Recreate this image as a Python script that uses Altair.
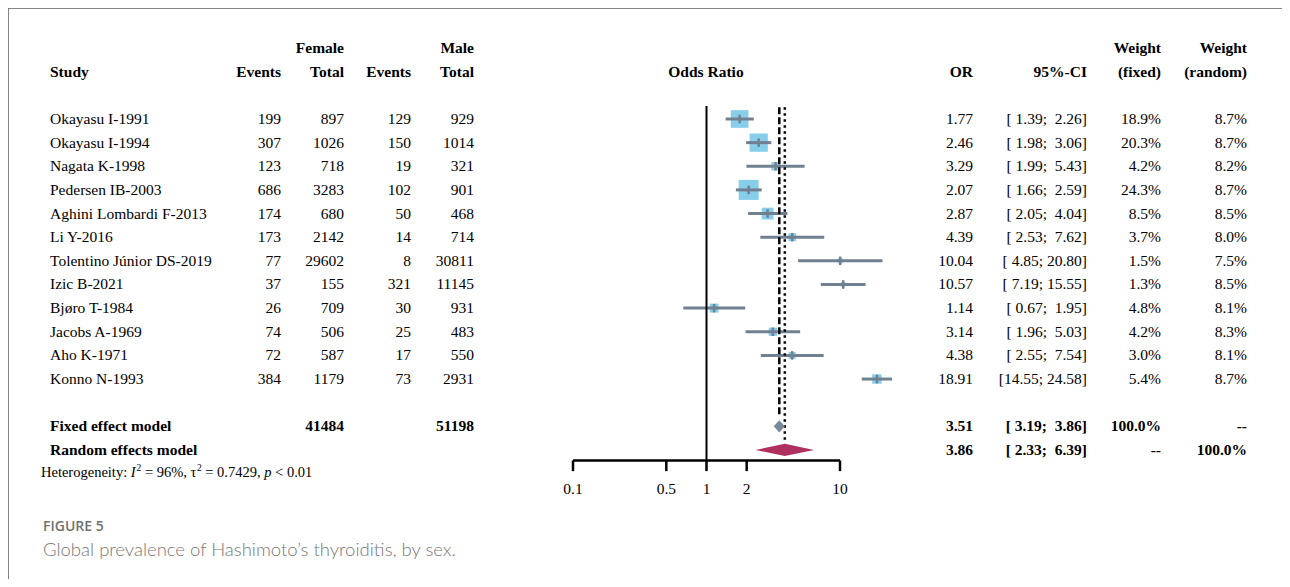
import altair as alt
import pandas as pd

# ---------------- data ----------------
studies = ["Okayasu I-1991", "Okayasu I-1994", "Nagata K-1998", "Pedersen IB-2003",
           "Aghini Lombardi F-2013", "Li Y-2016", "Tolentino Júnior DS-2019", "Izic B-2021",
           "Bjøro T-1984", "Jacobs A-1969", "Aho K-1971", "Konno N-1993"]
f_events = [199, 307, 123, 686, 174, 173, 77, 37, 26, 74, 72, 384]
f_total = [897, 1026, 718, 3283, 680, 2142, 29602, 155, 709, 506, 587, 1179]
m_events = [129, 150, 19, 102, 50, 14, 8, 321, 30, 25, 17, 73]
m_total = [929, 1014, 321, 901, 468, 714, 30811, 11145, 931, 483, 550, 2931]
odds = [1.77, 2.46, 3.29, 2.07, 2.87, 4.39, 10.04, 10.57, 1.14, 3.14, 4.38, 18.91]
ci_lo = [1.39, 1.98, 1.99, 1.66, 2.05, 2.53, 4.85, 7.19, 0.67, 1.96, 2.55, 14.55]
ci_hi = [2.26, 3.06, 5.43, 2.59, 4.04, 7.62, 20.80, 15.55, 1.95, 5.03, 7.54, 24.58]
w_fixed = [18.9, 20.3, 4.2, 24.3, 8.5, 3.7, 1.5, 1.3, 4.8, 4.2, 3.0, 5.4]
w_random = [8.7, 8.7, 8.2, 8.7, 8.5, 8.0, 7.5, 8.5, 8.1, 8.3, 8.1, 8.7]

model_names = ["Fixed effect model", "Random effects model"]
model_keys = ["fixed", "random"]
model_or = [3.51, 3.86]
model_lo = [3.19, 2.33]
model_hi = [3.86, 6.39]
model_wf = ["100.0%", "--"]
model_wr = ["--", "100.0%"]
total_female = 41484
total_male = 51198

tick_values = [0.1, 0.5, 1, 2, 10]
tick_labels = ["0.1", "0.5", "1", "2", "10"]

# ---------------- layout ----------------
W, H = 1274, 571
SERIF = "Liberation Serif"
FS = 15.5
ROW_MODEL = [13, 14]
ROW_AXIS = 14.445
NBSP = "\u00a0"

xs = alt.Scale(type="log", domain=[0.1, 10], range=[565, 832], nice=False)
ys = alt.Scale(domain=[0, 11], range=[111, 371.04], nice=False, zero=False)


def X(f):
    return alt.X(f, type="quantitative", scale=xs, axis=None)


def Y(f):
    return alt.Y(f, type="quantitative", scale=ys, axis=None)


def ci_text(lo, hi):
    return f"[{lo:5.2f}; {hi:5.2f}]".replace(" ", NBSP)


rows = list(range(len(studies)))
study_df = pd.DataFrame({
    "row": rows, "name": studies,
    "fe": [str(v) for v in f_events], "ft": [str(v) for v in f_total],
    "me": [str(v) for v in m_events], "mt": [str(v) for v in m_total],
    "or": odds, "lo": ci_lo, "hi": ci_hi, "wf": w_fixed, "wr": w_random,
    "ors": [f"{v:.2f}" for v in odds],
    "cis": [ci_text(a, b) for a, b in zip(ci_lo, ci_hi)],
    "wfs": [f"{v:.1f}%" for v in w_fixed],
    "wrs": [f"{v:.1f}%" for v in w_random],
})
model_df = pd.DataFrame({
    "row": ROW_MODEL, "name": model_names,
    "fe": ["", ""], "ft": [str(total_female), ""],
    "me": ["", ""], "mt": [str(total_male), ""],
    "ors": [f"{v:.2f}" for v in model_or],
    "cis": [ci_text(a, b) for a, b in zip(model_lo, model_hi)],
    "wfs": model_wf, "wrs": model_wr,
})

layers = []

# frame
frame = pd.DataFrame({"k": [0]})
layers.append(alt.Chart(frame).mark_rule(color="#666666", strokeWidth=1.5).encode(
    x=alt.value(0), x2=alt.value(W), y=alt.value(0.0)))
layers.append(alt.Chart(frame).mark_rule(color="#666666", strokeWidth=1.5).encode(
    x=alt.value(0.0), y=alt.value(0), y2=alt.value(H)))

# squares (area proportional to fixed weight)
layers.append(alt.Chart(study_df).mark_square(color="#87CEEB", opacity=1).encode(
    x=X("or"), y=Y("row"),
    size=alt.Size("wf:Q", scale=alt.Scale(domain=[0, 100], range=[0, 1650]), legend=None)))

# CI lines
layers.append(alt.Chart(study_df).mark_rule(color="#708090", strokeWidth=3).encode(
    x=X("lo"), x2=alt.X2("hi"), y=Y("row")))

# point estimate ticks
layers.append(alt.Chart(study_df).transform_calculate(
    y1="datum.row - 0.18", y2="datum.row + 0.18").mark_rule(color="#708090", strokeWidth=2.5).encode(
    x=X("or"), y=Y("y1"), y2=alt.Y2("y2")))

# reference lines
ref_df = pd.DataFrame({"v": [1.0], "top": [-0.55], "bot": [ROW_AXIS]})
layers.append(alt.Chart(ref_df).mark_rule(color="black", strokeWidth=2).encode(
    x=X("v"), y=Y("top"), y2=alt.Y2("bot")))
fixed_line = pd.DataFrame({"v": [model_or[0]], "top": [-0.5], "bot": [12.6]})
layers.append(alt.Chart(fixed_line).mark_rule(color="black", strokeWidth=2.5, strokeDash=[7, 3]).encode(
    x=X("v"), y=Y("top"), y2=alt.Y2("bot")))
rand_line = pd.DataFrame({"v": [model_or[1]], "top": [-0.5], "bot": [13.6]})
layers.append(alt.Chart(rand_line).mark_rule(color="black", strokeWidth=2.5, strokeDash=[2.5, 3.5]).encode(
    x=X("v"), y=Y("top"), y2=alt.Y2("bot")))

# diamonds
dia_rows = []
for key, r, est, lo, hi in zip(model_keys, ROW_MODEL, model_or, model_lo, model_hi):
    dia_rows.append({"model": key, "x": lo, "t": r, "b": r})
    dia_rows.append({"model": key, "x": est, "t": r - 0.26, "b": r + 0.26})
    dia_rows.append({"model": key, "x": hi, "t": r, "b": r})
dia_df = pd.DataFrame(dia_rows)
for key, col in zip(model_keys, ["#778899", "#B03060"]):
    layers.append(alt.Chart(dia_df[dia_df.model == key]).mark_area(
        orient="vertical", color=col, opacity=1).encode(
        x=X("x"), y=Y("t"), y2=alt.Y2("b")))

# x axis (drawn from 0.1 to 10)
axis_df = pd.DataFrame({"a": [tick_values[0]], "b": [tick_values[-1]], "r": [ROW_AXIS]})
layers.append(alt.Chart(axis_df).mark_rule(color="black", strokeWidth=2.5).encode(
    x=X("a"), x2=alt.X2("b"), y=Y("r")))
ticks_df = pd.DataFrame({"v": tick_values, "lab": tick_labels,
                         "t": [ROW_AXIS] * len(tick_values),
                         "b": [ROW_AXIS + 0.45] * len(tick_values),
                         "l": [15.65] * len(tick_values)})
layers.append(alt.Chart(ticks_df).mark_rule(color="black", strokeWidth=2.5).encode(
    x=X("v"), y=Y("t"), y2=alt.Y2("b")))
layers.append(alt.Chart(ticks_df).mark_text(font=SERIF, fontSize=FS, color="black",
                                            align="center", baseline="middle").encode(
    x=X("v"), y=Y("l"), text="lab:N"))

# table text
columns = [("name", 42, "left"), ("fe", 273, "right"), ("ft", 336, "right"),
           ("me", 403, "right"), ("mt", 466, "right"), ("ors", 965, "right"),
           ("cis", 1079, "right"), ("wfs", 1153, "right"), ("wrs", 1239, "right")]
for col, px, al in columns:
    layers.append(alt.Chart(study_df).mark_text(font=SERIF, fontSize=FS, color="black",
                                                align=al, baseline="middle").encode(
        x=alt.value(px), y=Y("row"), text=f"{col}:N"))
    sub = model_df[model_df[col] != ""]
    layers.append(alt.Chart(sub).mark_text(font=SERIF, fontSize=FS, color="black", fontWeight="bold",
                                           align=al, baseline="middle").encode(
        x=alt.value(px), y=Y("row"), text=f"{col}:N"))

# headers
headers = [("Female", -3, 336, "right"), ("Male", -3, 466, "right"),
           ("Weight", -3, 1153, "right"), ("Weight", -3, 1239, "right"),
           ("Study", -2, 42, "left"), ("Events", -2, 273, "right"), ("Total", -2, 336, "right"),
           ("Events", -2, 403, "right"), ("Total", -2, 466, "right"),
           ("Odds Ratio", -2, 698, "center"), ("OR", -2, 965, "right"),
           ("95%-CI", -2, 1079, "right"), ("(fixed)", -2, 1153, "right"),
           ("(random)", -2, 1239, "right")]
for txt, r, px, al in headers:
    hdf = pd.DataFrame({"row": [r], "t": [txt]})
    layers.append(alt.Chart(hdf).mark_text(font=SERIF, fontSize=FS, color="black", fontWeight="bold",
                                           align=al, baseline="middle").encode(
        x=alt.value(px), y=Y("row"), text="t:N"))

# heterogeneity line
HF = 14.5
SF = 9.5
het = [("Heterogeneity:", 33, "normal", HF, 0), ("I", 122.8, "italic", HF, 0),
       ("2", 128.5, "normal", SF, -5), ("= 96%,", 136.9, "normal", HF, 0),
       ("τ", 182.5, "normal", HF, 0), ("2", 188.9, "normal", SF, -5),
       ("= 0.7429,", 197.3, "normal", HF, 0), ("p", 256.2, "italic", HF, 0),
       ("< 0.01", 267.1, "normal", HF, 0)]
for txt, px, style, fs, dy in het:
    hdf = pd.DataFrame({"t": [txt]})
    layers.append(alt.Chart(hdf).mark_text(font=SERIF, fontSize=fs, fontStyle=style, color="black",
                                           align="left", baseline="middle", dy=dy).encode(
        x=alt.value(px), y=alt.value(465), text="t:N"))

# caption
cap1 = pd.DataFrame({"t": ["FIGURE 5"]})
layers.append(alt.Chart(cap1).mark_text(font="Open Sans", fontSize=14, fontWeight=600, color="#707070",
                                        align="left", baseline="middle").encode(
    x=alt.value(35), y=alt.value(519), text="t:N"))
cap2 = pd.DataFrame({"t": ["Global prevalence of Hashimoto’s thyroiditis, by sex."]})
layers.append(alt.Chart(cap2).mark_text(font="Lato", fontSize=18.5, fontWeight=300, color="#777777",
                                        align="left", baseline="middle").encode(
    x=alt.value(35), y=alt.value(542), text="t:N"))

chart = alt.layer(*layers).properties(
    width=W, height=H, padding=0,
    autosize=alt.AutoSizeParams(type="none"),
).configure_view(stroke=None).configure(background="white")

chart.save("out.html", embed_options={"renderer": "svg", "actions": False})
